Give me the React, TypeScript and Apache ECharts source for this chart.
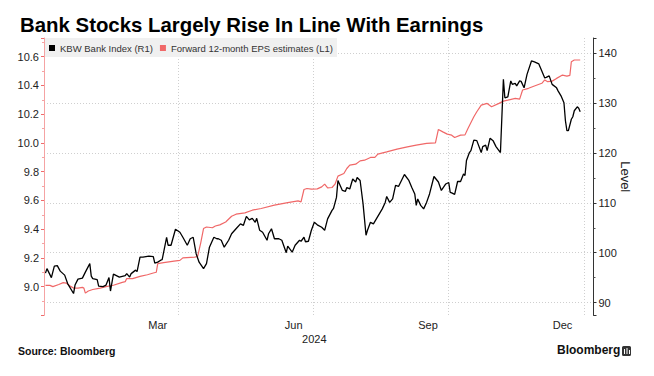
import React, { useEffect, useRef } from "react";
import * as echarts from "echarts";

const FONT = "'Liberation Sans', Arial, sans-serif";

const AXIS_START = "2024-01-01";
const AXIS_END = "2025-01-07";

const monthLabelDates = ["2024-03-18", "2024-06-18", "2024-09-17", "2024-12-17"];
const monthLabelTexts = ["Mar", "Jun", "Sep", "Dec"];
const yearLabelDates = ["2024-07-02"];
const yearLabelTexts = ["2024"];
const quarterLineDates = ["2024-04-01", "2024-07-01", "2024-10-01", "2025-01-01"];

const kbwName = "KBW Bank Index (R1)";
const epsName = "Forward 12-month EPS estimates (L1)";

const epsDates = [
  "2024-01-02", "2024-01-05", "2024-01-07", "2024-01-11", "2024-01-14", "2024-01-16", "2024-01-19", "2024-01-21",
  "2024-01-24", "2024-01-27", "2024-01-28", "2024-01-29", "2024-01-31", "2024-02-03", "2024-02-08", "2024-02-12",
  "2024-02-17", "2024-02-23", "2024-02-25", "2024-02-26", "2024-03-01", "2024-03-06", "2024-03-11", "2024-03-15",
  "2024-03-17", "2024-03-18", "2024-03-22", "2024-03-29", "2024-04-02", "2024-04-04", "2024-04-12", "2024-04-14",
  "2024-04-16", "2024-04-18", "2024-04-20", "2024-04-24", "2024-04-26", "2024-04-29", "2024-05-03", "2024-05-07",
  "2024-05-10", "2024-05-16", "2024-05-21", "2024-05-27", "2024-06-05", "2024-06-14", "2024-06-21", "2024-06-23",
  "2024-06-25", "2024-06-27", "2024-06-30", "2024-07-04", "2024-07-07", "2024-07-09", "2024-07-11", "2024-07-14",
  "2024-07-16", "2024-07-18", "2024-07-22", "2024-07-24", "2024-07-26", "2024-07-30", "2024-08-02", "2024-08-05",
  "2024-08-09", "2024-08-12", "2024-08-14", "2024-08-20", "2024-08-27", "2024-09-03", "2024-09-09", "2024-09-16",
  "2024-09-22", "2024-09-24", "2024-09-27", "2024-09-30", "2024-10-03", "2024-10-05", "2024-10-09", "2024-10-12",
  "2024-10-14", "2024-10-18", "2024-10-20", "2024-10-23", "2024-10-27", "2024-10-30", "2024-11-04", "2024-11-07",
  "2024-11-10", "2024-11-15", "2024-11-18", "2024-11-20", "2024-11-24", "2024-11-28", "2024-12-03", "2024-12-05",
  "2024-12-07", "2024-12-10", "2024-12-13", "2024-12-17", "2024-12-20", "2024-12-22", "2024-12-23", "2024-12-25",
  "2024-12-29",
];
const epsValues = [
  9.009, 9.009, 9.0, 9.015, 9.028, 9.025, 9.002, 8.99,
  8.99, 8.995, 8.99, 8.955, 8.97, 8.98, 8.99, 9.0,
  9.01, 9.03, 9.035, 9.056, 9.056, 9.072, 9.083, 9.095,
  9.1, 9.16, 9.167, 9.178, 9.183, 9.2, 9.206, 9.21,
  9.3, 9.404, 9.415, 9.41, 9.422, 9.43, 9.45, 9.49,
  9.504, 9.513, 9.532, 9.544, 9.567, 9.585, 9.597, 9.59,
  9.676, 9.683, 9.678, 9.68, 9.694, 9.713, 9.687, 9.69,
  9.713, 9.769, 9.787, 9.822, 9.845, 9.852, 9.875, 9.88,
  9.899, 9.9, 9.922, 9.938, 9.957, 9.973, 9.985, 9.997,
  10.0, 10.094, 10.077, 10.061, 10.054, 10.038, 10.054, 10.056,
  10.101, 10.182, 10.217, 10.263, 10.275, 10.252, 10.275, 10.291,
  10.298, 10.31, 10.305, 10.368, 10.38, 10.396, 10.415, 10.438,
  10.426, 10.43, 10.449, 10.472, 10.465, 10.47, 10.565, 10.577,
  10.577,
];

const kbwDates = [
  "2024-01-02", "2024-01-03", "2024-01-06", "2024-01-08", "2024-01-10", "2024-01-12", "2024-01-15", "2024-01-17",
  "2024-01-21", "2024-01-22", "2024-01-24", "2024-01-27", "2024-01-29", "2024-02-01", "2024-02-02", "2024-02-03",
  "2024-02-06", "2024-02-07", "2024-02-10", "2024-02-12", "2024-02-14", "2024-02-15", "2024-02-17", "2024-02-21",
  "2024-02-25", "2024-02-26", "2024-02-28", "2024-02-29", "2024-03-03", "2024-03-04", "2024-03-06", "2024-03-08",
  "2024-03-12", "2024-03-15", "2024-03-16", "2024-03-18", "2024-03-20", "2024-03-21", "2024-03-24", "2024-03-25",
  "2024-03-27", "2024-03-30", "2024-04-02", "2024-04-04", "2024-04-07", "2024-04-09", "2024-04-11", "2024-04-13",
  "2024-04-15", "2024-04-18", "2024-04-20", "2024-04-22", "2024-04-25", "2024-04-27", "2024-04-28", "2024-04-30",
  "2024-05-02", "2024-05-05", "2024-05-07", "2024-05-10", "2024-05-13", "2024-05-15", "2024-05-17", "2024-05-19",
  "2024-05-21", "2024-05-23", "2024-05-24", "2024-05-26", "2024-05-28", "2024-05-31", "2024-06-01", "2024-06-03",
  "2024-06-05", "2024-06-08", "2024-06-10", "2024-06-13", "2024-06-14", "2024-06-17", "2024-06-19", "2024-06-22",
  "2024-06-23", "2024-06-25", "2024-06-26", "2024-06-28", "2024-06-30", "2024-07-02", "2024-07-04", "2024-07-07",
  "2024-07-09", "2024-07-11", "2024-07-14", "2024-07-15", "2024-07-17", "2024-07-18", "2024-07-21", "2024-07-23",
  "2024-07-24", "2024-07-26", "2024-07-28", "2024-07-30", "2024-07-31", "2024-08-02", "2024-08-04", "2024-08-06",
  "2024-08-07", "2024-08-09", "2024-08-11", "2024-08-13", "2024-08-17", "2024-08-19", "2024-08-20", "2024-08-22",
  "2024-08-24", "2024-08-26", "2024-08-28", "2024-09-01", "2024-09-04", "2024-09-06", "2024-09-08", "2024-09-09",
  "2024-09-10", "2024-09-12", "2024-09-14", "2024-09-16", "2024-09-18", "2024-09-21", "2024-09-24", "2024-09-26",
  "2024-09-29", "2024-10-01", "2024-10-02", "2024-10-03", "2024-10-05", "2024-10-07", "2024-10-09", "2024-10-11",
  "2024-10-12", "2024-10-13", "2024-10-15", "2024-10-16", "2024-10-18", "2024-10-20", "2024-10-23", "2024-10-24",
  "2024-10-26", "2024-10-27", "2024-10-29", "2024-10-31", "2024-11-02", "2024-11-05", "2024-11-07", "2024-11-08",
  "2024-11-10", "2024-11-12", "2024-11-13", "2024-11-15", "2024-11-16", "2024-11-18", "2024-11-19", "2024-11-21",
  "2024-11-23", "2024-11-26", "2024-11-28", "2024-12-01", "2024-12-03", "2024-12-05", "2024-12-06", "2024-12-08",
  "2024-12-10", "2024-12-13", "2024-12-14", "2024-12-16", "2024-12-18", "2024-12-19", "2024-12-20", "2024-12-21",
  "2024-12-23", "2024-12-24", "2024-12-25", "2024-12-27", "2024-12-28", "2024-12-29",
];
const kbwValues = [
  95.9, 96.8, 95.0, 97.3, 97.4, 96.3, 95.5, 93.8,
  91.8, 93.5, 94.7, 94.9, 96.1, 97.8, 95.3, 94.8,
  94.6, 93.3, 93.2, 93.5, 95.0, 92.3, 95.7, 95.1,
  95.4, 95.8, 95.1, 95.8, 96.5, 96.2, 99.1, 99.1,
  99.3, 99.2, 97.9, 98.1, 98.5, 98.6, 103.1, 101.5,
  101.5, 104.7, 104.1, 103.1, 101.5, 102.8, 103.1, 99.8,
  98.1, 96.8, 97.8, 101.1, 103.1, 102.8, 102.8, 102.5,
  101.1, 102.5, 103.8, 104.8, 105.8, 105.5, 107.3, 106.6,
  106.9, 106.1, 106.9, 104.5, 104.1, 102.5, 103.8, 104.8,
  102.8, 102.8, 102.5, 100.0, 101.3, 100.1, 101.5, 102.5,
  102.3, 103.1, 102.2, 102.3, 104.5, 106.1, 105.6, 105.1,
  104.5, 106.8, 108.5, 108.9, 111.1, 114.5, 112.5, 112.3,
  113.1, 112.8, 114.8, 114.2, 115.1, 114.5, 109.8, 103.5,
  104.5, 106.1, 105.8, 106.8, 108.8, 110.1, 111.3, 110.1,
  110.8, 113.5, 113.3, 115.7, 114.5, 113.1, 111.8, 109.5,
  110.8, 109.5, 108.8, 110.1, 111.8, 115.3, 114.2, 112.5,
  113.8, 114.1, 112.1, 112.0, 111.7, 114.3, 114.3, 115.8,
  115.5, 118.5, 120.1, 120.5, 122.6, 122.5, 120.1, 121.3,
  121.6, 120.5, 123.0, 122.5, 121.3, 120.1, 134.8, 131.1,
  131.3, 134.5, 133.8, 134.0, 133.5, 134.5, 134.4, 133.1,
  135.8, 138.5, 138.3, 137.9, 136.5, 135.1, 135.2, 135.5,
  133.8, 133.1, 132.5, 131.5, 130.1, 126.5, 124.5, 124.5,
  126.8, 127.3, 128.5, 129.3, 129.0, 128.3,
];

function buildDays(start: string, end: string): string[] {
  const out: string[] = [];
  const d = new Date(start + "T00:00:00Z");
  const endT = new Date(end + "T00:00:00Z").getTime();
  while (d.getTime() <= endT) {
    out.push(d.toISOString().slice(0, 10));
    d.setUTCDate(d.getUTCDate() + 1);
  }
  return out;
}

export default function App() {
  const ref = useRef<HTMLDivElement>(null);

  useEffect(() => {
    document.body.style.margin = "0";
    if (!ref.current) return;
    const chart = echarts.init(ref.current, undefined, { renderer: "svg" });
    const days = buildDays(AXIS_START, AXIS_END);
    const epsData = epsDates.map((d, i) => [d, epsValues[i]]);
    const kbwData = kbwDates.map((d, i) => [d, kbwValues[i]]);

    const option: any = {
      animation: false,
      backgroundColor: "#ffffff",
      textStyle: { fontFamily: FONT },
      title: {
        text: "Bank Stocks Largely Rise In Line With Earnings",
        left: 15,
        top: 10,
        textStyle: { fontFamily: FONT, fontSize: 20.4, fontWeight: "bold", color: "#000" },
      },
      legend: {
        data: [kbwName, epsName],
        left: 45,
        top: 38,
        icon: "rect",
        itemWidth: 6,
        itemHeight: 6,
        itemGap: 7,
        padding: [5, 4, 4, 4],
        backgroundColor: "#f0f0f0",
        textStyle: { fontFamily: FONT, fontSize: 9.5, color: "#333" },
      },
      grid: { left: 44, right: 60.5, top: 38, bottom: 60.6, containLabel: false },
      xAxis: [
        {
          type: "category",
          data: days,
          boundaryGap: false,
          axisLine: { show: false },
          axisTick: { show: false },
          axisLabel: {
            interval: (_i: number, v: string) => monthLabelDates.indexOf(v) >= 0,
            formatter: (v: string) => monthLabelTexts[monthLabelDates.indexOf(v)] || "",
            margin: 4,
            fontSize: 11,
            color: "#222",
            fontFamily: FONT,
          },
          splitLine: {
            show: true,
            interval: (_i: number, v: string) => quarterLineDates.indexOf(v) >= 0,
            lineStyle: { color: "#cfcfcf", type: [1, 2], width: 1 },
          },
        },
        {
          type: "category",
          data: days,
          position: "bottom",
          offset: 14,
          boundaryGap: false,
          axisLine: { show: false },
          axisTick: { show: false },
          splitLine: { show: false },
          axisLabel: {
            interval: (_i: number, v: string) => yearLabelDates.indexOf(v) >= 0,
            formatter: (v: string) => yearLabelTexts[yearLabelDates.indexOf(v)] || "",
            margin: 4,
            fontSize: 11,
            color: "#222",
            fontFamily: FONT,
          },
        },
      ],
      yAxis: [
        {
          type: "value",
          position: "left",
          min: 8.8,
          max: 10.73,
          interval: 0.2,
          axisLine: { show: true, lineStyle: { color: "#f5a3a3", width: 1 } },
          axisTick: { show: true, length: 3, lineStyle: { color: "#f06b6b" } },
          minorTick: { show: true, splitNumber: 2, length: 2, lineStyle: { color: "#f5a3a3" } },
          axisLabel: {
            margin: 5,
            fontSize: 11,
            color: "#222",
            fontFamily: FONT,
            showMinLabel: false,
            showMaxLabel: false,
            formatter: (v: number) => v.toFixed(1),
          },
          splitLine: { show: false },
        },
        {
          type: "value",
          position: "right",
          min: 87.41,
          max: 143.11,
          splitNumber: 5,
          name: "Level",
          nameLocation: "middle",
          nameRotate: -90,
          nameGap: 25,
          nameMoveOverlap: false,
          nameTextStyle: { fontFamily: FONT, fontSize: 13, color: "#222" },
          axisLine: { show: true, lineStyle: { color: "#333", width: 1 } },
          axisTick: { show: true, length: 3, lineStyle: { color: "#333" } },
          minorTick: { show: true, splitNumber: 2, length: 2, lineStyle: { color: "#555" } },
          axisLabel: {
            margin: 5,
            fontSize: 11,
            color: "#222",
            fontFamily: FONT,
            showMinLabel: false,
            showMaxLabel: false,
            formatter: (v: number) => String(Math.round(v)),
          },
          splitLine: {
            show: true,
            showMinLine: false,
            showMaxLine: false,
            lineStyle: { color: "#cfcfcf", type: [1, 2], width: 1 },
          },
        },
      ],
      series: [
        {
          name: epsName,
          type: "line",
          xAxisIndex: 0,
          yAxisIndex: 0,
          data: epsData,
          showSymbol: false,
          symbol: "none",
          lineStyle: { color: "#f06868", width: 1.2 },
          itemStyle: { color: "#f06868" },
          z: 2,
        },
        {
          name: kbwName,
          type: "line",
          xAxisIndex: 0,
          yAxisIndex: 1,
          data: kbwData,
          showSymbol: false,
          symbol: "none",
          lineStyle: { color: "#000", width: 1.3 },
          itemStyle: { color: "#000" },
          z: 3,
        },
      ],
      graphic: [
        {
          type: "text",
          left: 18,
          top: 345,
          style: { text: "Source: Bloomberg", font: `bold 10.5px ${FONT}`, fill: "#111" },
        },
        {
          type: "text",
          left: 557,
          top: 344,
          style: { text: "Bloomberg", font: `bold 12px ${FONT}`, fill: "#111" },
        },
        {
          type: "rect",
          left: 622,
          top: 346,
          shape: { width: 9, height: 10, r: 1.5 },
          style: { fill: "#333" },
        },
        {
          type: "rect",
          left: 624,
          top: 349,
          shape: { width: 1, height: 5 },
          style: { fill: "#fff" },
        },
        {
          type: "rect",
          left: 626.5,
          top: 348,
          shape: { width: 1, height: 6 },
          style: { fill: "#fff" },
        },
        {
          type: "rect",
          left: 629,
          top: 350,
          shape: { width: 1, height: 4 },
          style: { fill: "#fff" },
        },
      ],
    };

    chart.setOption(option);
    return () => {
      chart.dispose();
    };
  }, []);

  return <div ref={ref} style={{ width: 654, height: 376 }} />;
}
